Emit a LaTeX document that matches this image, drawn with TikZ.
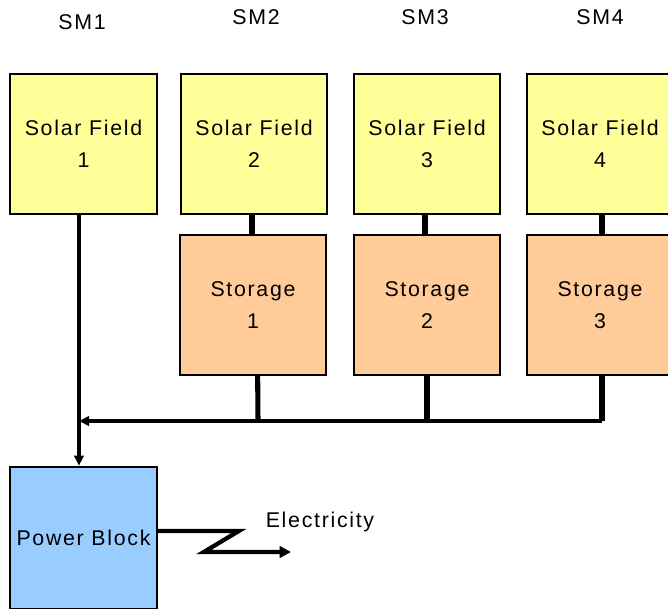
\documentclass[tikz,border=0pt]{standalone}
\usepackage{fontspec}
\setmainfont{Liberation Sans}[LetterSpace=8]
\usetikzlibrary{arrows.meta,calc}
\definecolor{fieldyellow}{RGB}{255,255,153}
\definecolor{storeorange}{RGB}{255,204,153}
\definecolor{blockblue}{RGB}{153,204,255}
\tikzset{
    box/.style={draw, line width=1.5pt, minimum width=110pt, minimum height=105pt,
        align=center, inner sep=0pt, font=\fontsize{16}{24}\selectfont},
    field/.style={box, fill=fieldyellow},
    store/.style={box, fill=storeorange},
    label/.style={font=\fontsize{16}{24}\selectfont},
    thin line/.style={line width=2.5pt},
    thick line/.style={line width=3.8pt},
    tip/.style={-{Triangle[length=7.5pt,width=7pt]}}
}

\begin{document}
\begin{tikzpicture}[x=0.75pt, y=-0.75pt]
    \useasboundingbox (0,0) rectangle (668,608);

    % Solar multiples
    \node[label] (sm1) at (82,22) {SM1};
    \node[label] (sm2) at (256,17) {SM2};
    \node[label] (sm3) at (425,17) {SM3};
    \node[label] (sm4) at (600,17) {SM4};

    % Solar fields
    \node[field] (sf1) at (83.5,144) {Solar Field\\1};
    \node[field] (sf2) at (254,144) {Solar Field\\2};
    \node[field] (sf3) at (427,144) {Solar Field\\3};
    \node[field] (sf4) at (600,144) {Solar Field\\4};

    % Storage
    \node[store] (st1) at (253,305) {Storage\\1};
    \node[store] (st2) at (427,305) {Storage\\2};
    \node[store] (st3) at (600,305) {Storage\\3};

    % Power block
    \node[box, fill=blockblue, minimum height=107pt] (pb) at (83.5,538) {Power Block};

    % Fields to storage
    \draw[thick line] ([xshift=-1.5pt]sf2.south) -- ([xshift=-1.5pt]st2.north -| sf2.south);
    \draw[thick line] ([xshift=-1.5pt]sf3.south) -- ([xshift=-1.5pt]st2.north);
    \draw[thick line] ([xshift=1.5pt]sf4.south) -- ([xshift=1.5pt]st3.north);

    % Storage to bus
    \coordinate (bus1) at (258,421);
    \coordinate (bus2) at (427,421);
    \coordinate (bus3) at (602,421);
    \coordinate (busL) at (79,421);
    \draw[thick line] ([xshift=3.5pt]st1.south) -- (bus1);
    \draw[thick line] (st2.south) -- (bus2);
    \draw[thick line] ([xshift=1.5pt]st3.south) -- (bus3);
    \draw[thin line, tip] (bus3) -- (busL);

    % Field 1 to power block
    \draw[thin line, tip] ([xshift=-3.4pt]sf1.south) -- ([xshift=-3.4pt]pb.north);

    % Electricity
    \coordinate (elec) at (291,552);
    \draw[line width=3.2pt, -{Triangle[length=8.5pt,width=8.5pt]}]
        ([yshift=5.25pt]pb.east) -- ++(81,0) -- ++(-35,21) -- (elec);
    \node[label] (eleclabel) at (320,522) {Electricity};
\end{tikzpicture}
\end{document}
